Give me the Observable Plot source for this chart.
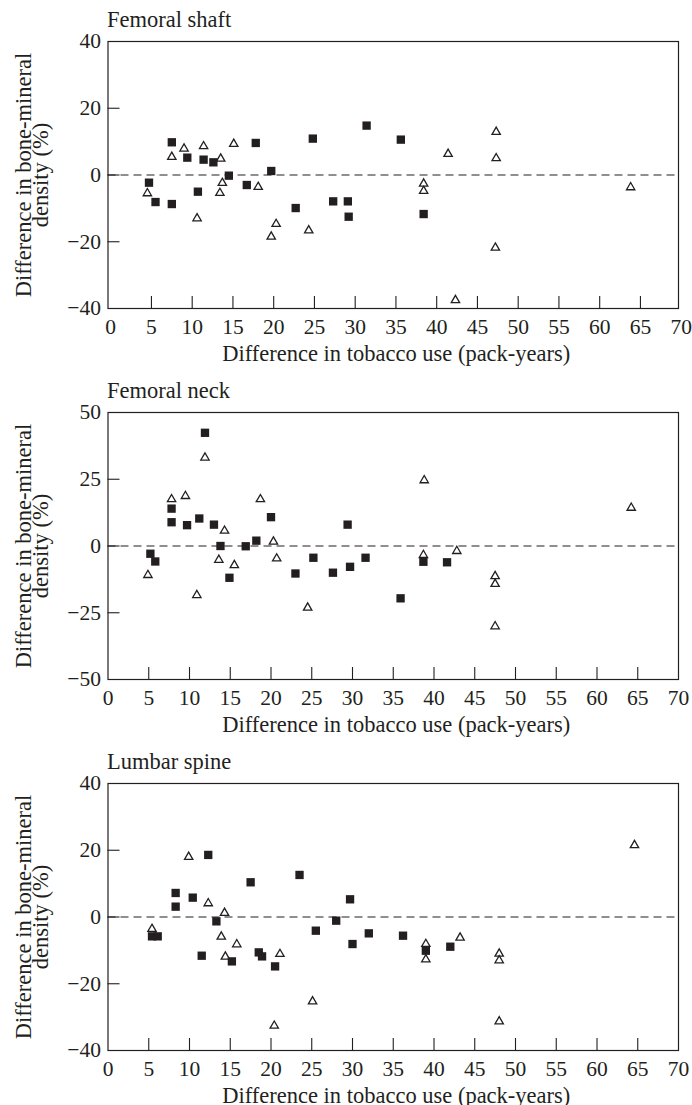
<!DOCTYPE html>
<html>
<head>
<meta charset="utf-8">
<script src="https://cdn.jsdelivr.net/npm/d3@7"></script>
<script src="https://cdn.jsdelivr.net/npm/@observablehq/plot@0.6"></script>
<style>
  html, body { margin: 0; padding: 0; background: #fff; overflow: hidden; }
  #chart svg { display: block; }
</style>
</head>
<body>
<div id="chart"></div>
<script>
// ---- data (pack-years difference, % BMD difference) ----
const xTicks = [0, 5, 10, 15, 20, 25, 30, 35, 40, 45, 50, 55, 60, 65, 70];
const shaftYTicks = [-40, -20, 0, 20, 40];
const neckYTicks = [-50, -25, 0, 25, 50];
const spineYTicks = [-40, -20, 0, 20, 40];

const titles = ["Femoral shaft", "Femoral neck", "Lumbar spine"];
const xLabel = "Difference in tobacco use (pack-years)";
const yLabel = "Difference in bone-mineral\ndensity (%)";

const shaftSquares = [[7.5,9.8],[9.4,5.2],[11.4,4.6],[12.6,3.8],[4.7,-2.3],[5.5,-8.1],[7.5,-8.7],[10.7,-5.0],[14.5,-0.2],[16.7,-3.0],[17.8,9.6],[19.7,1.2],[22.7,-9.9],[24.8,10.9],[27.3,-7.9],[29.1,-7.9],[29.2,-12.5],[31.4,14.8],[35.6,10.6],[38.4,-11.7]];
const shaftTriangles = [[7.5,5.4],[9.0,7.9],[11.4,8.6],[13.5,4.9],[15.1,9.3],[4.5,-5.5],[10.6,-13.0],[13.7,-2.4],[13.4,-5.4],[18.1,-3.6],[20.3,-14.7],[19.7,-18.5],[24.3,-16.6],[47.3,12.9],[41.4,6.3],[47.3,5.0],[38.4,-2.6],[38.4,-4.8],[63.8,-3.7],[47.2,-21.8],[42.3,-37.5]];

const neckSquares = [[11.9,42.4],[7.8,14.0],[7.8,8.9],[9.7,7.8],[11.2,10.3],[13.0,8.0],[13.8,0],[5.2,-2.9],[5.8,-5.8],[14.9,-11.9],[16.9,-0.1],[18.2,2.0],[20.0,10.8],[23.0,-10.3],[25.2,-4.4],[27.6,-10.0],[29.7,-7.8],[29.4,8.0],[31.6,-4.4],[35.9,-19.6],[38.7,-5.9],[41.6,-6.1]];
const neckTriangles = [[11.9,33.1],[7.8,17.5],[9.5,18.7],[18.7,17.5],[14.3,5.7],[20.3,1.6],[4.9,-10.9],[13.6,-5.2],[15.5,-7.2],[20.7,-4.7],[10.9,-18.4],[24.5,-23.1],[38.8,24.6],[64.2,14.3],[38.7,-3.4],[42.8,-1.9],[47.5,-11.3],[47.5,-14.2],[47.5,-30.1]];

const spineSquares = [[12.3,18.6],[8.3,7.2],[8.3,3.1],[10.4,5.8],[17.5,10.4],[23.5,12.6],[29.7,5.3],[13.3,-1.3],[5.4,-5.8],[6.1,-5.8],[11.5,-11.6],[15.2,-13.3],[18.5,-10.6],[18.9,-11.8],[20.5,-14.8],[25.5,-4.1],[28.0,-1.1],[30.0,-8.1],[32.0,-4.9],[36.2,-5.6],[39.0,-10.1],[42.0,-8.9]];
const spineTriangles = [[9.9,18.0],[12.3,4.1],[14.3,1.2],[5.4,-3.6],[13.9,-5.9],[15.8,-8.2],[14.4,-11.9],[21.1,-11.1],[25.1,-25.3],[20.4,-32.6],[39.0,-8.1],[39.0,-12.7],[43.2,-6.2],[48.0,-11.0],[48.0,-13.0],[48.0,-31.3],[64.6,21.5]];

// ---- drawing ----
const ink = "#231f20";
const fmt = d => d < 0 ? "\u2212" + Math.abs(d) : String(d);
const W = 692, ML = 107.5, MR = 14, MT = 41, PH = 267;

function panel({title, xDomain, yDomain, yTicks, squares, triangles, height}) {
  const lo = yDomain[0], hi = yDomain[1];
  return Plot.plot({
    width: W, height,
    marginLeft: ML, marginRight: MR, marginTop: MT, marginBottom: height - MT - PH,
    x: {domain: xDomain}, y: {domain: yDomain},
    style: {fontFamily: "'Liberation Serif', serif", color: ink, background: "white", overflow: "visible"},
    marks: [
      Plot.ruleY([0], {stroke: ink, strokeWidth: 1.1, strokeDasharray: "8,5"}),
      Plot.tickY(yTicks.filter(d => d > lo && d < hi), {y: d => d, stroke: ink, strokeWidth: 1.1, insetRight: (W - ML - MR) - 12}),
      Plot.tickX(xTicks.filter(d => d > 0 && d < 70), {x: d => d, stroke: ink, strokeWidth: 1.1, insetTop: PH - 12}),
      Plot.axisY({ticks: yTicks, tickSize: 0, tickPadding: 7, fontSize: 21.5, tickFormat: fmt, label: null}),
      Plot.axisX({ticks: xTicks, tickSize: 0, tickPadding: 10, fontSize: 21.5, tickFormat: fmt, label: null}),
      Plot.frame({stroke: ink, strokeWidth: 1.2}),
      Plot.dot(triangles, {x: d => d[0], y: d => d[1], symbol: "triangle", r: 3.1, stroke: ink, strokeWidth: 1.3, fill: "none"}),
      Plot.dot(squares, {x: d => d[0], y: d => d[1], symbol: "square", r: 4.7, fill: ink, stroke: "none"}),
      Plot.text([title], {frameAnchor: "top-left", textAnchor: "start", lineAnchor: "middle", dx: -1, dy: -21.5, fontSize: 22.5, fill: ink}),
      Plot.text([xLabel], {frameAnchor: "bottom", textAnchor: "middle", lineAnchor: "middle", dx: 3, dy: 45.5, fontSize: 22.5, fill: ink}),
      Plot.text([yLabel], {frameAnchor: "left", rotate: -90, textAnchor: "middle", lineAnchor: "middle", dx: 33.5 - ML, lineHeight: 0.77, fontSize: 22.5, fill: ink})
    ]
  });
}

const chart = document.getElementById("chart");
chart.append(panel({title: titles[0], xDomain: [-0.33, 69.67], yDomain: [-40, 40], yTicks: shaftYTicks, squares: shaftSquares, triangles: shaftTriangles, height: 371}));
chart.append(panel({title: titles[1], xDomain: [0, 70], yDomain: [-50, 50], yTicks: neckYTicks, squares: neckSquares, triangles: neckTriangles, height: 371}));
chart.append(panel({title: titles[2], xDomain: [0, 70], yDomain: [-40, 40], yTicks: spineYTicks, squares: spineSquares, triangles: spineTriangles, height: 363}));
</script>
</body>
</html>
